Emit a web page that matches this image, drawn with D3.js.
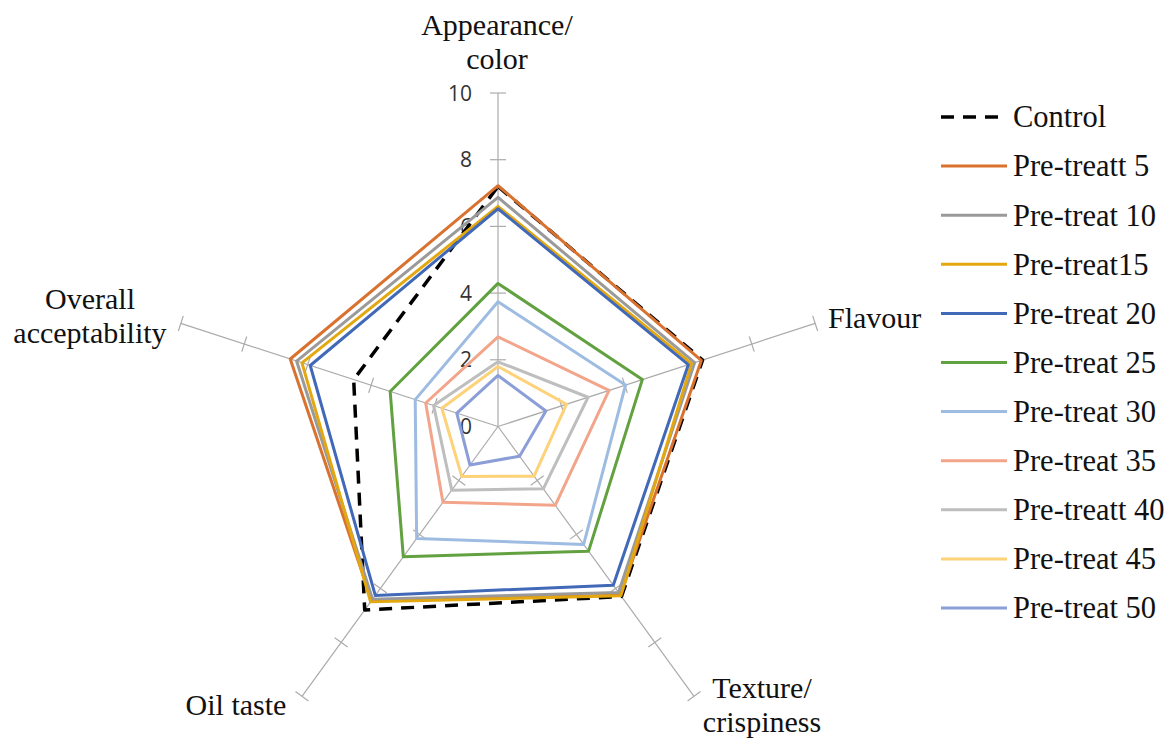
<!DOCTYPE html>
<html>
<head>
<meta charset="utf-8">
<script src="https://cdn.jsdelivr.net/npm/d3@7"></script>
<style>
  html, body { margin: 0; padding: 0; background: #fff; }
  svg { display: block; }
  .serif { font-family: "Liberation Serif", "Times New Roman", "DejaVu Serif", serif; }
  .sans { font-family: "Open Sans", "Liberation Sans", Arial, sans-serif; }
</style>
</head>
<body>
<svg id="chart" width="1172" height="738"></svg>
<script>
// Sensory attributes, clockwise from the top spoke
const attributes = ["Appearance/ color", "Flavour", "Texture/ crispiness", "Oil taste", "Overall acceptability"];

// Series names as listed in the legend
const seriesNames = ["Control", "Pre-treatt 5", "Pre-treat 10", "Pre-treat15", "Pre-treat 20",
  "Pre-treat 25", "Pre-treat 30", "Pre-treat 35", "Pre-treatt 40", "Pre-treat 45", "Pre-treat 50"];

// Scores per attribute (same order as attributes)
const control     = [7.2, 6.45, 6.3, 6.8, 4.55];
const pretreat5   = [7.22, 6.41, 6.25, 6.45, 6.55];
const pretreat10  = [6.87, 6.2, 6.15, 6.4, 6.35];
const pretreat15  = [6.6, 6.1, 6.27, 6.5, 6.18];
const pretreat20  = [6.53, 6.0, 5.88, 6.26, 5.92];
const pretreat25  = [4.29, 4.55, 4.62, 4.83, 3.4];
const pretreat30  = [3.74, 4.02, 4.37, 4.15, 2.61];
const pretreat35  = [2.69, 3.5, 2.92, 2.81, 2.28];
const pretreat40  = [1.94, 2.84, 2.31, 2.36, 2.03];
const pretreat45  = [1.8, 2.16, 1.84, 1.85, 1.77];
const pretreat50  = [1.53, 1.51, 1.1, 1.43, 1.3];

// Radial axis tick values
const tickValues = [0, 2, 4, 6, 8, 10];

const seriesValues = [control, pretreat5, pretreat10, pretreat15, pretreat20,
  pretreat25, pretreat30, pretreat35, pretreat40, pretreat45, pretreat50];

const colors = ["#000000", "#D9722F", "#9A9A9A", "#E3A810", "#4169B8", "#62A140",
  "#9EBCE2", "#F2A58A", "#BEBEBE", "#FDD279", "#8B9ED8"];

const series = seriesNames.map((name, i) => ({
  name, values: seriesValues[i], color: colors[i], dashed: i === 0
}));

const svg = d3.select("#chart");
const cx = 498, cy = 426.5, R = 333.5;
const r = d3.scaleLinear().domain([0, 10]).range([0, R]);
const angle = i => (-90 + 72 * i) * Math.PI / 180;
const pt = (i, v) => [cx + r(v) * Math.cos(angle(i)), cy + r(v) * Math.sin(angle(i))];

// Spokes with perpendicular tick marks
const axisG = svg.append("g");
attributes.forEach((a, i) => {
  const [x2, y2] = pt(i, 10);
  axisG.append("line")
    .attr("x1", cx).attr("y1", cy).attr("x2", x2).attr("y2", y2)
    .attr("stroke", "#ABABAB").attr("stroke-width", 1.2);
  const th = angle(i);
  const nx = -Math.sin(th), ny = Math.cos(th);
  tickValues.forEach(t => {
    if (t === 0) return;
    const [tx, ty] = pt(i, t);
    axisG.append("line")
      .attr("x1", tx - nx * 8).attr("y1", ty - ny * 8)
      .attr("x2", tx + nx * 8).attr("y2", ty + ny * 8)
      .attr("stroke", "#ABABAB").attr("stroke-width", 1.2);
  });
});

// Tick labels on the top spoke
svg.append("g").selectAll("text").data(tickValues).join("text")
  .attr("class", "sans")
  .attr("x", cx - 26)
  .attr("y", d => cy - r(d))
  .attr("dy", "0.36em")
  .attr("text-anchor", "end")
  .attr("font-size", 21)
  .attr("fill", "#333")
  .text(d => d);

// Series polygons
const line = d3.line().curve(d3.curveLinearClosed);
svg.append("g").selectAll("path").data(series).join("path")
  .attr("d", s => line(s.values.map((v, i) => pt(i, v))))
  .attr("fill", "none")
  .attr("stroke", s => s.color)
  .attr("stroke-width", s => s.dashed ? 3.5 : 3)
  .attr("stroke-dasharray", s => s.dashed ? "13,9" : null)
  .attr("stroke-linejoin", "round");

// Attribute labels
const labels = [
  { lines: ["Appearance/", "color"], x: 497, y: 35, anchor: "middle" },
  { lines: ["Flavour"], x: 828, y: 328, anchor: "start" },
  { lines: ["Texture/", "crispiness"], x: 762, y: 698, anchor: "middle" },
  { lines: ["Oil taste"], x: 236, y: 715, anchor: "middle" },
  { lines: ["Overall", "acceptability"], x: 90, y: 309, anchor: "middle" }
];
labels.forEach(l => {
  const t = svg.append("text")
    .attr("class", "serif").attr("font-size", 30)
    .attr("fill", "#111").attr("text-anchor", l.anchor);
  l.lines.forEach((s, k) => {
    t.append("tspan").attr("x", l.x).attr("y", l.y + k * 34).text(s);
  });
});

// Legend
const legend = svg.append("g").selectAll("g").data(series).join("g")
  .attr("transform", (d, i) => `translate(941, ${117 + i * 49.1})`);
legend.append("line")
  .attr("x1", 0).attr("x2", 66).attr("y1", 0).attr("y2", 0)
  .attr("stroke", d => d.color)
  .attr("stroke-width", d => d.dashed ? 3.5 : 3)
  .attr("stroke-dasharray", d => d.dashed ? "13,9" : null);
legend.append("text")
  .attr("class", "serif")
  .attr("x", 72).attr("y", 0).attr("dy", "0.34em")
  .attr("font-size", 30.5)
  .attr("fill", "#111")
  .text(d => d.name);
</script>
</body>
</html>
